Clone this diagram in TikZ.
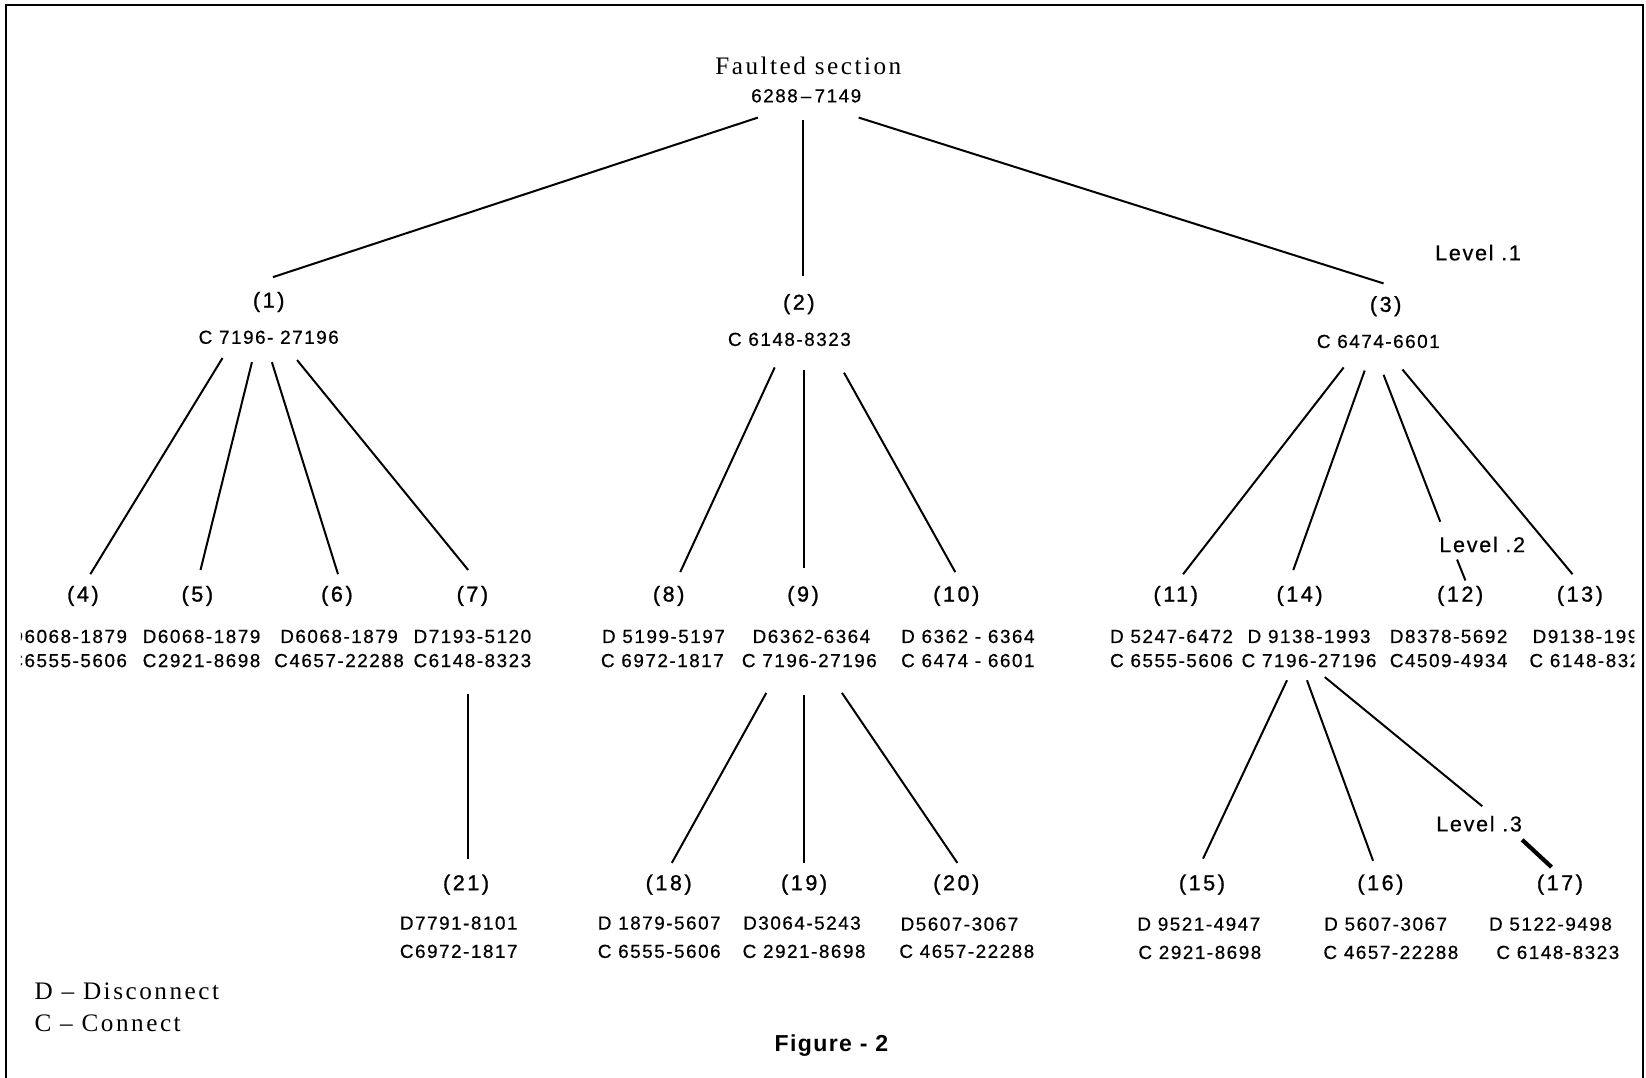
\documentclass[tikz,border=0pt]{standalone}
\usepackage{fontspec}
\usetikzlibrary{calc}
\newfontfamily\dfont[LetterSpace=8,FakeBold=0.6]{Liberation Sans}
\newfontfamily\lfont[LetterSpace=12,FakeBold=1.2]{Liberation Sans}
\newfontfamily\sfont[LetterSpace=10]{Liberation Serif}
\newfontfamily\ffont[LetterSpace=6]{Liberation Sans}
\begin{document}
\begin{tikzpicture}[x=1pt,y=-1pt,
  every node/.style={inner sep=0pt,outer sep=0pt,anchor=base},
  lab/.style={font=\lfont\fontsize{20.5}{20.5}\selectfont},
  code/.style={font=\dfont\fontsize{18}{18}\selectfont},
  lvl/.style={font=\dfont\fontsize{20.5}{20.5}\selectfont},
  serif/.style={font=\sfont\fontsize{24}{24}\selectfont},
  conn/.style={line width=1.9pt},
  thick conn/.style={line width=4pt}]
\useasboundingbox (0,0) rectangle (1568,1026);
\fill[white] (0,0) rectangle (1568,1026);
% frame
\draw[line width=2pt] (6,1030) -- (6,5) -- (1565,5) -- (1565,1030);

\begin{scope}
\clip (20,0) rectangle (1557,1026);
% top
\node[serif] (f1) at (770,71) {Faulted section};
\node[code] (f2) at (768,97.5) {6288\,–\,7149};
% level 1
\node[lab] (n1) at (256,293) {(1)};
\node[lab] (n2) at (761,295) {(2)};
\node[lab] (n3) at (1320,297) {(3)};
\node[code] (c1) at (256,327.5) {C 7196- 27196};
\node[code] (c2) at (752,329.5) {C 6148-8323};
\node[code] (c3) at (1313,331.5) {C 6474-6601};
\node[lvl] (lv1) at (1408,248) {Level .1};
% level 2 labels
\node[lab] (n4) at (79,573) {(4)};
\node[lab] (n5) at (188,573) {(5)};
\node[lab] (n6) at (321,573) {(6)};
\node[lab] (n7) at (450,573) {(7)};
\node[lab] (n8) at (637,573) {(8)};
\node[lab] (n9) at (765,573) {(9)};
\node[lab] (n10) at (911,573) {(10)};
\node[lab] (n11) at (1120,573) {(11)};
\node[lab] (n14) at (1238,573) {(14)};
\node[lab] (n12) at (1391,573) {(12)};
\node[lab] (n13) at (1505,573) {(13)};
\node[lvl] (lv2) at (1412,526) {Level .2};
% level 2 codes
\node[code,anchor=base east] (d4) at (121,612.5) {D6068-1879};
\node[code,anchor=base east] (c4) at (121,635.5) {C6555-5606};
\node[code] (d5) at (192,612.5) {D6068-1879};
\node[code] (c5) at (192,635.5) {C2921-8698};
\node[code] (d6) at (323,612.5) {D6068-1879};
\node[code] (c6) at (323,635.5) {C4657-22288};
\node[code] (d7) at (450,612.5) {D7193-5120};
\node[code] (c7) at (450,635.5) {C6148-8323};
\node[code] (d8) at (632,612.5) {D 5199-5197};
\node[code] (c8) at (631,635.5) {C 6972-1817};
\node[code] (d9) at (773,612.5) {D6362-6364};
\node[code] (c9) at (771,635.5) {C 7196-27196};
\node[code] (d10) at (922,612.5) {D 6362 - 6364};
\node[code] (c10) at (922,635.5) {C 6474 - 6601};
\node[code] (d11) at (1116,612.5) {D 5247-6472};
\node[code] (c11) at (1116,635.5) {C 6555-5606};
\node[code] (d14) at (1247,612.5) {D 9138-1993};
\node[code] (c14) at (1247,635.5) {C 7196-27196};
\node[code] (d12) at (1380,612.5) {D8378-5692};
\node[code] (c12) at (1380,635.5) {C4509-4934};
\node[code,anchor=base west] (d13) at (1460,612.5) {D9138-1993};
\node[code,anchor=base west] (c13) at (1457,635.5) {C 6148-8323};
% level 3 labels
\node[lab] (n21) at (444,848) {(21)};
\node[lab] (n18) at (637,848) {(18)};
\node[lab] (n19) at (766,848) {(19)};
\node[lab] (n20) at (911,848) {(20)};
\node[lab] (n15) at (1145,848) {(15)};
\node[lab] (n16) at (1315,848) {(16)};
\node[lab] (n17) at (1486,848) {(17)};
\node[lvl] (lv3) at (1409,792) {Level .3};
% level 3 codes
\node[code] (d21) at (437,885.5) {D7791-8101};
\node[code] (c21) at (437,912.5) {C6972-1817};
\node[code] (d18) at (628,885.5) {D 1879-5607};
\node[code] (c18) at (628,912.5) {C 6555-5606};
\node[code] (d19) at (764,885.5) {D3064-5243};
\node[code] (c19) at (766,912.5) {C 2921-8698};
\node[code] (d20) at (914,886.5) {D5607-3067};
\node[code] (c20) at (921,912.5) {C 4657-22288};
\node[code] (d15) at (1142,886.5) {D 9521-4947};
\node[code] (c15) at (1143,913.5) {C 2921-8698};
\node[code] (d16) at (1320,886.5) {D 5607-3067};
\node[code] (c16) at (1325,913.5) {C 4657-22288};
\node[code] (d17) at (1477,886.5) {D 5122-9498};
\node[code] (c17) at (1484,913.5) {C 6148-8323};
% legend
\node[serif,anchor=base west] (lgd) at (33,952) {D – Disconnect};
\node[serif,anchor=base west] (lgc) at (33,983) {C – Connect};
\node[font=\ffont\bfseries\fontsize{22}{22}\selectfont] (fig) at (792,1002) {Figure - 2};
\end{scope}

% connectors: top
\draw[conn] ($(f2.base)+(-46,14.5)$) -- ($(n1.base)+(4,-29)$);
\draw[conn] ($(f2.base)+(-3,16.5)$) -- ($(n2.base)+(4,-32)$);
\draw[conn] ($(f2.base)+(50,14.5)$) -- ($(n3.base)+(-2,-27)$);
% from (1)
\draw[conn] ($(c1.base)+(-44,13.5)$) -- ($(n4.base)+(7,-26)$);
\draw[conn] ($(c1.base)+(-16,17.5)$) -- ($(n5.base)+(3,-30)$);
\draw[conn] ($(c1.base)+(3,17.5)$) -- ($(n6.base)+(1,-26)$);
\draw[conn] ($(c1.base)+(27,15.5)$) -- ($(n7.base)+(-4,-30)$);
% from (2)
\draw[conn] ($(c2.base)+(-14,20.5)$) -- ($(n8.base)+(11,-28)$);
\draw[conn] ($(c2.base)+(14,22.5)$) -- ($(n9.base)+(1,-32)$);
\draw[conn] ($(c2.base)+(52,25.5)$) -- ($(n10.base)+(-1,-28)$);
% from (3)
\draw[conn] ($(c3.base)+(-33,18.5)$) -- ($(n11.base)+(7,-26)$);
\draw[conn] ($(c3.base)+(-13,21.5)$) -- ($(n14.base)+(-6,-30)$);
\draw[conn] ($(c3.base)+(5,25.5)$) -- ($(lv2.base)+(-40,-29)$);
\draw[conn] ($(lv2.base)+(-24,7)$) -- ($(n12.base)+(5,-20)$);
\draw[conn] ($(c3.base)+(23,20.5)$) -- ($(n13.base)+(-7,-26)$);
% from (7)
\draw[conn] ($(c7.base)+(-4,25.5)$) -- ($(n21.base)+(2,-30)$);
% from (9)
\draw[conn] ($(c9.base)+(-41,24.5)$) -- ($(n18.base)+(3,-26)$);
\draw[conn] ($(c9.base)+(-5,26.5)$) -- ($(n19.base)+(0,-26)$);
\draw[conn] ($(c9.base)+(31,24.5)$) -- ($(n20.base)+(1,-26)$);
% from (14)
\draw[conn] ($(c14.base)+(-21,12.5)$) -- ($(n15.base)+(1,-30)$);
\draw[conn] ($(c14.base)+(-2,12.5)$) -- ($(n16.base)+(-7,-28)$);
\draw[conn] ($(c14.base)+(15,9.5)$) -- ($(lv3.base)+(3,-24)$);
\draw[thick conn] ($(lv3.base)+(41,8)$) -- ($(n17.base)+(-8,-22)$);
\end{tikzpicture}
\end{document}
